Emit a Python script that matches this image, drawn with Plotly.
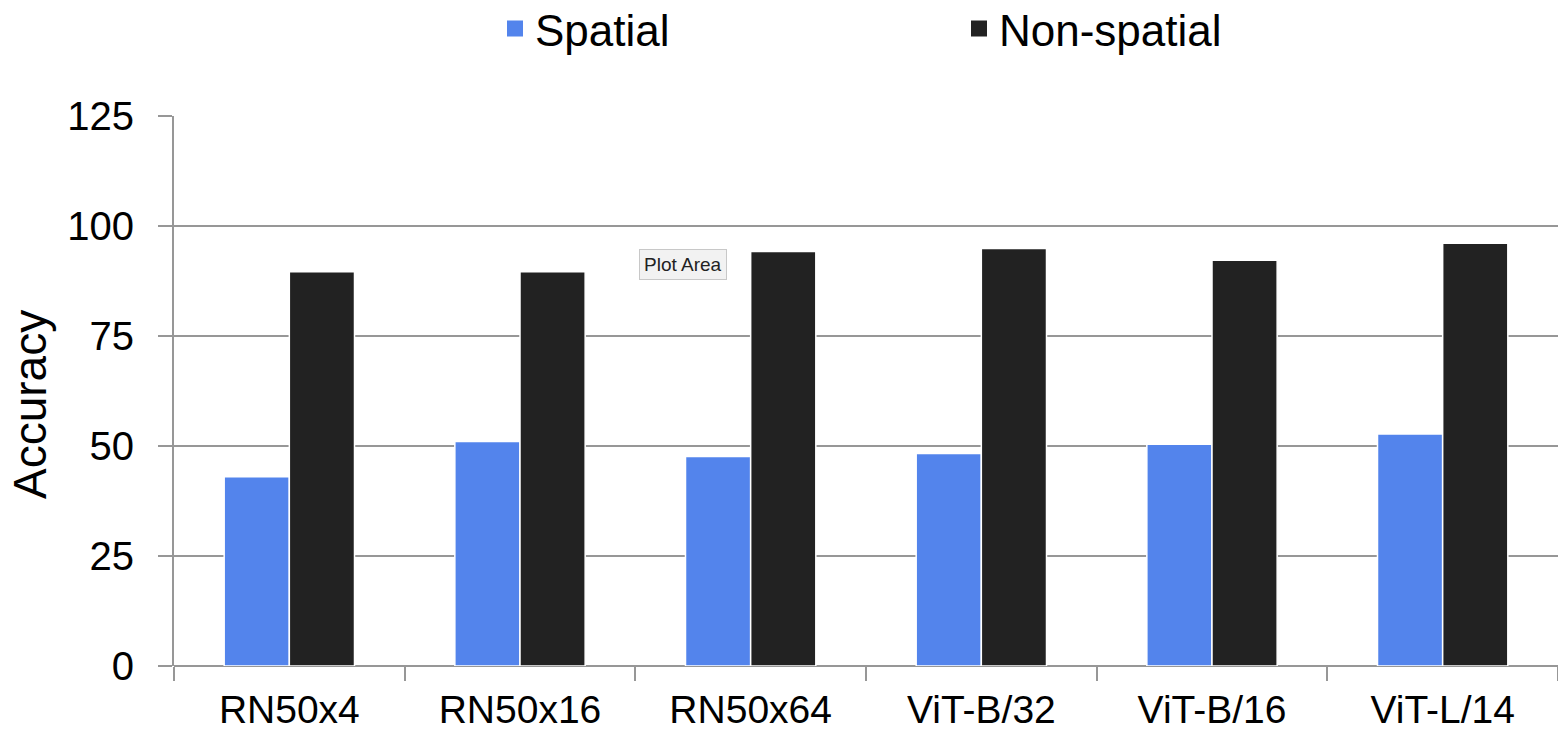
import plotly.graph_objects as go

categories = ["RN50x4", "RN50x16", "RN50x64", "ViT-B/32", "ViT-B/16", "ViT-L/14"]
spatial = [43.0, 51.0, 47.6, 48.3, 50.4, 52.7]
non_spatial = [89.6, 89.6, 94.2, 94.9, 92.2, 96.1]
y_ticks = [0, 25, 50, 75, 100, 125]

BLUE = "#5384EC"
DARK = "#222222"
GRID = "#979797"
FONT = "Liberation Sans, Arial, Helvetica, sans-serif"

W, H = 1558, 735
L, R, T = 174, 0, 116
B = H - 666

def px_x(x):
    return (x - L) / (W - L - R)

def px_y(y):
    return (666 - y) / (H - T - B)

fig = go.Figure()
fig.add_trace(go.Bar(x=categories, y=spatial, name="Spatial", marker=dict(color=BLUE, line=dict(color="white", width=1.5)), showlegend=False))
fig.add_trace(go.Bar(x=categories, y=non_spatial, name="Non-spatial", marker=dict(color=DARK, line=dict(color="white", width=1.5)), showlegend=False))
# legend entries
fig.add_trace(go.Scatter(x=[None], y=[None], mode="markers", name="Spatial",
                         marker=dict(symbol="square", size=16, color=BLUE)))
fig.add_trace(go.Scatter(x=[None], y=[None], mode="markers", name="Non-spatial",
                         marker=dict(symbol="square", size=16, color=DARK)))

fig.update_layout(
    width=W, height=H,
    margin=dict(l=L, r=R, t=T, b=B, autoexpand=False),
    paper_bgcolor="white", plot_bgcolor="white",
    font=dict(family=FONT, color="black", size=40),
    barmode="group", bargap=0.435, bargroupgap=0.0,
    legend=dict(orientation="h", x=px_x(495), xanchor="left",
                y=1 - 29 / H, yanchor="middle", yref="container",
                entrywidth=419, entrywidthmode="pixels",
                font=dict(size=44, family=FONT), itemwidth=30, tracegroupgap=0),
    showlegend=True,
)

fig.update_xaxes(
    type="category", tickson="boundaries", ticks="outside", ticklen=14, tickwidth=2, tickcolor=GRID,
    showline=False, showgrid=False, tickfont=dict(size=39), range=[-0.5, 5.5],
    automargin=False, ticklabelstandoff=17,
)
fig.update_yaxes(
    range=[0, 125], tickvals=y_ticks, ticks="outside", ticklen=14, tickwidth=2, tickcolor=GRID,
    showgrid=True, gridcolor=GRID, gridwidth=2, zeroline=True, zerolinecolor=GRID, zerolinewidth=2,
    showline=True, linecolor=GRID, linewidth=2, tickfont=dict(size=40),
    automargin=False, ticklabelstandoff=16,
)

# y-axis title
fig.add_annotation(
    x=px_x(30), y=px_y(405), xref="paper", yref="paper", xanchor="center", yanchor="middle",
    text="Accuracy", textangle=-90, showarrow=False, font=dict(size=46, family=FONT, color="black"),
)

# hover label visible in the reference screenshot
fig.add_annotation(
    x=px_x(683), y=px_y(264), xref="paper", yref="paper", xanchor="center", yanchor="middle",
    text="Plot Area", showarrow=False,
    font=dict(size=19, family=FONT, color="#222"), bgcolor="#f2f2f2", bordercolor="#c8c8c8",
    borderwidth=1, borderpad=4,
)

fig.write_html("out.html", config={"displayModeBar": False},
               post_script="document.body.style.margin='0';document.body.style.overflow='hidden';")
